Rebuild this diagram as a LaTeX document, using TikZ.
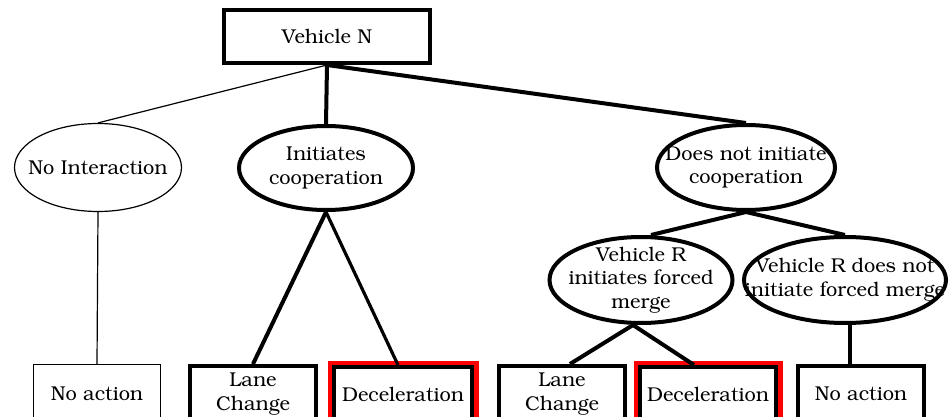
\documentclass[tikz,border=0pt]{standalone}
\usepackage[T1]{fontenc}
\usepackage{bookman}
\usepackage{tikz}
\usetikzlibrary{shapes.geometric}

\tikzset{
  decision/.style={ellipse, draw, line width=4pt, inner sep=-40pt, align=center},
  decisionthin/.style={ellipse, draw, line width=1.2pt, inner sep=-40pt, align=center},
  action/.style={rectangle, draw, fill=white, line width=4pt, inner sep=0pt,
    minimum width=126pt, minimum height=56pt, align=center},
  actionthin/.style={rectangle, draw, line width=1.2pt, inner sep=0pt,
    minimum width=127pt, minimum height=59pt, align=center},
  chosen/.style={action, preaction={draw=red, line width=13pt}},
  link/.style={line width=4pt},
  linkthin/.style={line width=1.2pt}
}

\begin{document}
\begin{tikzpicture}[x=1pt, y=-1pt, font=\fontsize{20}{23.5}\selectfont]

  \useasboundingbox (0,0) rectangle (950,417);

  % Define nodes
  \node[rectangle, draw, line width=4pt, minimum width=206pt, minimum height=53pt]
    (vn) at (327,36.5) {Vehicle N};

  \node[decisionthin, minimum width=167pt, minimum height=88pt] (noint) at (98,167.5) {No Interaction};
  \node[decision, minimum width=174pt, minimum height=84pt] (initc) at (326,168) {Initiates\\cooperation};
  \node[decision, minimum width=178pt, minimum height=85pt] (dnic) at (746,167.5) {Does not initiate\\cooperation};

  \node[decision, minimum width=183pt, minimum height=86pt] (vri) at (641,280) {Vehicle R\\initiates forced\\merge};
  \node[decision, minimum width=202pt, minimum height=86pt] (vrn) at (845,280) {Vehicle R does not\\initiate forced merge};

  \node[actionthin] (na1) at (97,394) {No action};
  \node[action] (lc1) at (253,394) {Lane\\Change};
  \node[chosen, minimum width=138pt] (dec1) at (403,395) {Deceleration};
  \node[action] (lc2) at (562,394) {Lane\\Change};
  \node[chosen, minimum width=136pt] (dec2) at (708,395) {Deceleration};
  \node[action] (na2) at (861,394) {No action};

  % Connect the nodes
  \draw[linkthin] (vn.south) -- (noint.north);
  \draw[link] (vn.south) -- (initc.north);
  \draw[link] (vn.south) -- (dnic.north);

  \draw[linkthin] (noint.south) -- (na1.north);
  \draw[link] (initc.south) -- (lc1.north);
  \draw[link, line width=3.2pt] (initc.south) -- ([xshift=-5pt]dec1.north);

  \draw[link] (dnic.south) -- ([xshift=10pt]vri.north);
  \draw[link] (dnic.south) -- (vrn.north);

  \draw[link] ([xshift=-8pt]vri.south) -- ([xshift=8pt]lc2.north);
  \draw[link] ([xshift=-8pt]vri.south) -- ([xshift=-14pt]dec2.north);
  \draw[link] ([xshift=5pt]vrn.south) -- ([xshift=5pt]vrn.south |- na2.north);

\end{tikzpicture}
\end{document}
